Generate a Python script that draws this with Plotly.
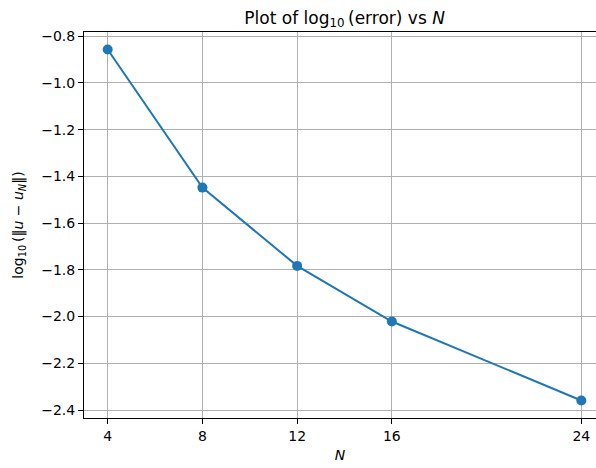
import plotly.graph_objects as go

N_values = [4, 8, 12, 16, 24]
log_error = [-0.857, -1.448, -1.783, -2.021, -2.359]
x_ticks = [4, 8, 12, 16, 24]
y_ticks = [-0.8, -1.0, -1.2, -1.4, -1.6, -1.8, -2.0, -2.2, -2.4]

font = "DejaVu Sans"
fig = go.Figure()
fig.add_trace(go.Scatter(
    x=N_values, y=log_error, mode="lines+markers",
    line=dict(color="#1f77b4", width=2),
    marker=dict(color="#1f77b4", size=10),
    showlegend=False,
))

fig.update_layout(
    width=596, height=468,
    margin=dict(l=84, r=0, t=32, b=50),
    paper_bgcolor="white", plot_bgcolor="white",
    font=dict(family=font, size=14, color="black"),
    title=dict(
        text="Plot of log<sub>10</sub>\u2009(error) vs <i>N</i>",
        x=0.509, xanchor="center", xref="paper",
        y=0.962, yanchor="middle", yref="container",
        font=dict(family=font, size=17, color="black"),
    ),
    xaxis=dict(
        range=[3, 24.62], tickvals=x_ticks, ticktext=[str(v) for v in x_ticks],
        showgrid=True, gridcolor="#b0b0b0", gridwidth=1,
        showline=True, linecolor="black", linewidth=1, mirror=True,
        ticks="outside", ticklen=5, tickwidth=1, tickcolor="black",
        zeroline=False,
        title=dict(text="<i>N</i>", standoff=7, font=dict(family=font, size=14)),
    ),
    yaxis=dict(
        range=[-2.434, -0.782], tickvals=y_ticks, tickformat=".1f",
        showgrid=True, gridcolor="#b0b0b0", gridwidth=1,
        showline=True, linecolor="black", linewidth=1, mirror=False,
        ticks="outside", ticklen=5, tickwidth=1, tickcolor="black",
        zeroline=False,
        title=dict(text="log<sub>10</sub>\u2009(‖<i>u</i> − <i>u<sub>N</sub></i>‖)", standoff=14,
                   font=dict(family=font, size=14)),
    ),
)

fig.write_html(
    "out.html",
    config={"displayModeBar": False},
    post_script="document.body.style.margin='0';document.body.style.padding='0';"
                "document.body.style.overflow='hidden';"
                "document.documentElement.style.overflow='hidden';",
)
